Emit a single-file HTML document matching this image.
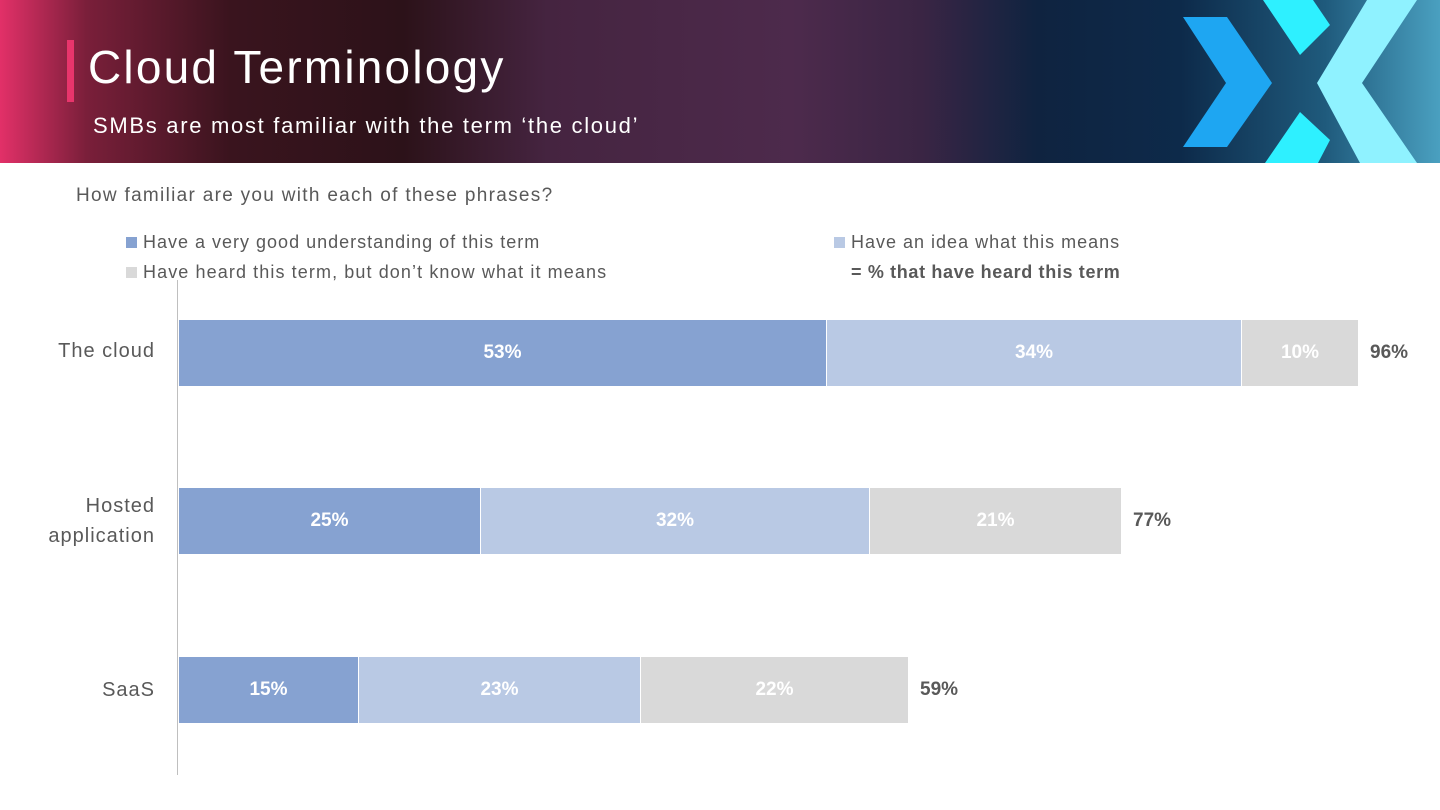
<!DOCTYPE html>
<html><head><meta charset="utf-8"><style>
body{margin:0;width:1440px;height:810px;background:#fff;position:relative;overflow:hidden;font-family:"Liberation Sans",sans-serif}
.hdr{position:absolute;left:0;top:0;width:1440px;height:163px;background:linear-gradient(90deg,#e23068 0%,#7a1f3a 6%,#3a141e 16%,#2c1219 28%,#452440 38%,#4d2a4c 55%,#3a2544 64%,#0f2340 72%,#0d2a4a 82%,#1f5a7c 92%,#4aa0c0 100%)}
.t{position:absolute;color:#595959;font-size:19px}
.bar{position:absolute;height:66px;color:#fff;font-weight:bold;font-size:19px;display:flex;align-items:center;justify-content:center}
.d{background:#86a2d1}.l{background:#b9c9e4}.g{background:#d9d9d9}
.tot{position:absolute;color:#595959;font-weight:bold;font-size:19px}
.sq{display:inline-block;width:11px;height:11px;margin-right:6px}
.cat{position:absolute;right:1285px;color:#595959;font-size:20px;text-align:right;line-height:30px;letter-spacing:1px}
</style></head><body>
<div class="hdr"></div>
<svg style="position:absolute;left:0;top:0" width="1440" height="163">
<polygon points="1183,17 1227,17 1272,83 1227,147 1183,147 1226,83" fill="#1ea6f2"/>
<polygon points="1263,0 1313,0 1330,25 1300,55" fill="#2ef0ff"/>
<polygon points="1300,112 1330,140 1318,163 1265,163" fill="#2ef0ff"/>
<polygon points="1367,0 1417,0 1362,83 1417,163 1360,163 1317,83" fill="#8ff2ff"/>
</svg>
<div style="position:absolute;left:67px;top:40px;width:7px;height:62px;background:#e8356c"></div>
<div style="position:absolute;left:88px;top:40px;color:#fff;font-size:46px;font-weight:300;letter-spacing:2.2px">Cloud Terminology</div>
<div style="position:absolute;left:93px;top:113px;color:#fff;font-size:22px;letter-spacing:1.7px">SMBs are most familiar with the term ‘the cloud’</div>
<div class="t" style="left:76px;top:185px;letter-spacing:1.3px">How familiar are you with each of these phrases?</div>
<div class="t" style="left:126px;top:232px;font-size:18px;letter-spacing:1px"><span class="sq d"></span>Have a very good understanding of this term</div>
<div class="t" style="left:126px;top:262px;font-size:18px;letter-spacing:1.1px"><span class="sq g"></span>Have heard this term, but don’t know what it means</div>
<div class="t" style="left:834px;top:232px;font-size:18px;letter-spacing:1px"><span class="sq l"></span>Have an idea what this means</div>
<div class="t" style="left:851px;top:262px;font-size:18px;font-weight:bold;letter-spacing:0.65px">= % that have heard this term</div>
<div style="position:absolute;left:177px;top:280px;width:1px;height:495px;background:#bfbfbf"></div>
<div class="cat" style="top:336px">The cloud</div>
<div class="cat" style="top:491px">Hosted<br>application</div>
<div class="cat" style="top:675px">SaaS</div>
<div class="bar d" style="left:179px;top:320px;width:647px">53%</div>
<div class="bar l" style="left:827px;top:320px;width:414px">34%</div>
<div class="bar g" style="left:1242px;top:320px;width:116px">10%</div>
<div class="tot" style="left:1370px;top:342px">96%</div>
<div class="bar d" style="left:179px;top:488px;width:301px">25%</div>
<div class="bar l" style="left:481px;top:488px;width:388px">32%</div>
<div class="bar g" style="left:870px;top:488px;width:251px">21%</div>
<div class="tot" style="left:1133px;top:510px">77%</div>
<div class="bar d" style="left:179px;top:657px;width:179px">15%</div>
<div class="bar l" style="left:359px;top:657px;width:281px">23%</div>
<div class="bar g" style="left:641px;top:657px;width:267px">22%</div>
<div class="tot" style="left:920px;top:679px">59%</div>
</body></html>
